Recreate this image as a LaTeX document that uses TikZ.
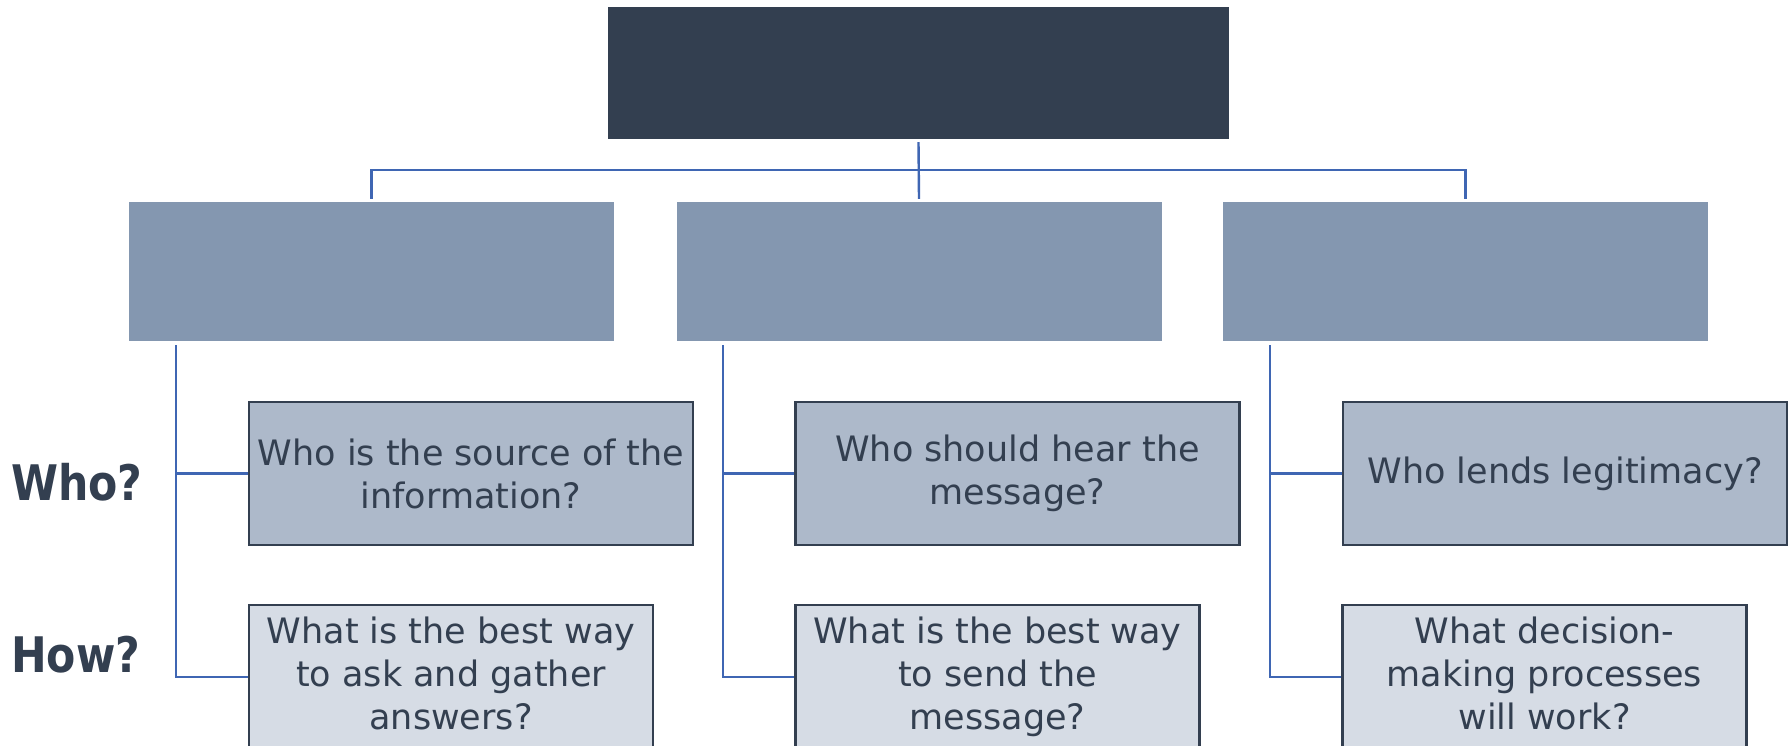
\documentclass[tikz,border=0pt]{standalone}
\usepackage{fontspec}
\setmainfont{DejaVu Sans}
\newfontfamily\lblfont[FakeStretch=0.87]{DejaVu Sans}
\definecolor{navy}{HTML}{333F50}
\definecolor{midfill}{HTML}{8497B0}
\definecolor{whofill}{HTML}{ADB9CA}
\definecolor{howfill}{HTML}{D6DCE5}
\definecolor{connblue}{HTML}{3F66B3}
\begin{document}
\begin{tikzpicture}[x=1pt,y=-1pt,
  topbox/.style={rectangle,fill=navy,minimum width=621pt,minimum height=132pt,inner sep=0pt},
  midbox/.style={rectangle,fill=midfill,minimum width=485pt,minimum height=139pt,inner sep=0pt},
  qbox/.style={rectangle,draw=navy,line width=2.2pt,text=navy,align=center,inner sep=0pt,
    font=\fontsize{35pt}{43pt}\selectfont},
  whobox/.style={qbox,fill=whofill,minimum width=444pt,minimum height=143pt},
  howbox/.style={qbox,fill=howfill,minimum width=404pt,minimum height=144pt},
  howtext/.style={anchor=north,inner sep=0pt,align=center,text=navy,
    font=\fontsize{35pt}{43pt}\selectfont},
  sidelabel/.style={anchor=base west,inner sep=0pt,text=navy,
    font=\lblfont\bfseries\fontsize{49pt}{58pt}\selectfont},
  conn/.style={draw=connblue,line width=2.4pt}
]
\useasboundingbox (0,0) rectangle (1789,746);
\fill[white] (0,0) rectangle (1789,746);

% top and second level
\node[topbox] (t) at (918.5,73) {};
\node[midbox] (m1) at (371.5,271.5) {};
\node[midbox] (m2) at (919,271.5) {};
\node[midbox] (m3) at (1465.5,271.5) {};

% question boxes
\node[whobox] (w1) at (471,473.5) {Who is the source of the\\information?};
\node[whobox] (w2) at (1017.5,473.5) {Who should hear the\\message?};
\node[whobox] (w3) at (1565,473.5) {Who lends legitimacy?};

\node[howbox] (h1) at (451,677) {};
\node[howbox] (h2) at (997.5,677) {};
\node[howbox] (h3) at (1544.5,677) {};
\node[howtext] (ht1) at ([yshift=-9pt]h1.north) {\rule{0pt}{30pt}What is the best way\\to ask and gather\\answers?};
\node[howtext] (ht2) at ([yshift=-9pt]h2.north) {\rule{0pt}{30pt}What is the best way\\to send the\\message?};
\node[howtext] (ht3) at ([yshift=-9pt]h3.north) {\rule{0pt}{30pt}What decision-\\making processes\\will work?};

% side labels
\node[sidelabel] (who) at (11,500) {Who?};
\node[sidelabel] (how) at (11,672) {How?};

% top connectors
\coordinate (bus) at (918.5,170);
\draw[conn] ([yshift=-3pt]t.south) -- ([yshift=3pt]m2.north);
\draw[conn] ([yshift=3pt]m1.north) |- (bus) -| ([yshift=3pt]m3.north);

% column connectors
\coordinate (s1) at (176,345);
\coordinate (s2) at (723,345);
\coordinate (s3) at (1270,345);
\foreach \i in {1,2,3}{
  \draw[conn] (s\i) |- (h\i.west);
  \draw[conn] (w\i.west) -- (w\i.west -| s\i);
}
\end{tikzpicture}
\end{document}
